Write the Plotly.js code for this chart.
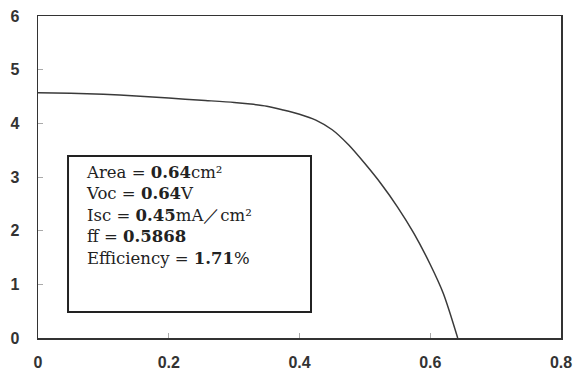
<!DOCTYPE html>
<html>
<head>
<meta charset="utf-8">
<script src="https://cdn.plot.ly/plotly-3.0.1.min.js"></script>
<style>html,body{margin:0;padding:0;background:#fff;}#chart{width:579px;height:378px;}</style>
</head>
<body>
<div id="chart"></div>
<script>
// I-V curve (voltage in V, current density in mA/cm²)
const voltage = [0, 0.05, 0.1, 0.15, 0.2, 0.25, 0.3, 0.325, 0.35, 0.375, 0.4, 0.425, 0.45, 0.475, 0.5, 0.525, 0.55, 0.575, 0.6, 0.62, 0.642];
const current = [4.57, 4.56, 4.54, 4.51, 4.47, 4.43, 4.39, 4.36, 4.32, 4.25, 4.17, 4.06, 3.88, 3.60, 3.25, 2.87, 2.44, 1.95, 1.37, 0.83, 0.0];
const xTicks = [0, 0.2, 0.4, 0.6, 0.8];
const xTickText = ['0', '0.2', '0.4', '0.6', '0.8'];
const yTicks = [0, 1, 2, 3, 4, 5, 6];
const infoLines = [
  'Area = <b>0.64</b>cm²',
  'Voc = <b>0.64</b>V',
  'Isc = <b>0.45</b>mA／cm²',
  'ff = <b>0.5868</b>',
  'Efficiency = <b>1.71</b>%'
];

const tickFont = {family: 'Liberation Sans, Arial, sans-serif', size: 16, color: '#333', weight: 'bold'};

const trace = {
  x: voltage, y: current, type: 'scatter', mode: 'lines',
  line: {color: '#3a3a3a', width: 1.5, shape: 'spline', smoothing: 0.8},
  hoverinfo: 'skip'
};

const layout = {
  width: 579, height: 378,
  margin: {l: 38, r: 18, t: 16, b: 40},
  paper_bgcolor: '#fff', plot_bgcolor: '#fff',
  showlegend: false,
  xaxis: {
    range: [0, 0.8], tickvals: xTicks, ticktext: xTickText,
    showgrid: false, zeroline: false,
    showline: true, mirror: true, linecolor: '#333', linewidth: 1.5,
    ticks: 'inside', ticklen: 5, tickcolor: '#aaa', tickwidth: 1,
    tickfont: tickFont, ticklabelstandoff: 9
  },
  yaxis: {
    range: [0, 6], tickvals: yTicks,
    showgrid: false, zeroline: false,
    showline: true, mirror: true, linecolor: '#333', linewidth: 1.5,
    ticks: 'inside', ticklen: 5, tickcolor: '#aaa', tickwidth: 1,
    tickfont: tickFont, ticklabelstandoff: 14
  },
  shapes: [{
    type: 'rect', xref: 'paper', yref: 'paper',
    x0: 0.0574, x1: 0.522, y0: 0.0807, y1: 0.565,
    line: {color: '#222', width: 2}, fillcolor: 'rgba(0,0,0,0)'
  }],
  annotations: [{
    xref: 'paper', yref: 'paper', x: 0.088, y: 0.55,
    xanchor: 'left', yanchor: 'top', align: 'left',
    showarrow: false,
    text: infoLines.join('<br>'),
    font: {family: 'DejaVu Serif, serif', size: 16.5, color: '#222'}
  }]
};

Plotly.newPlot('chart', [trace], layout, {displayModeBar: false, staticPlot: true});
</script>
</body>
</html>
